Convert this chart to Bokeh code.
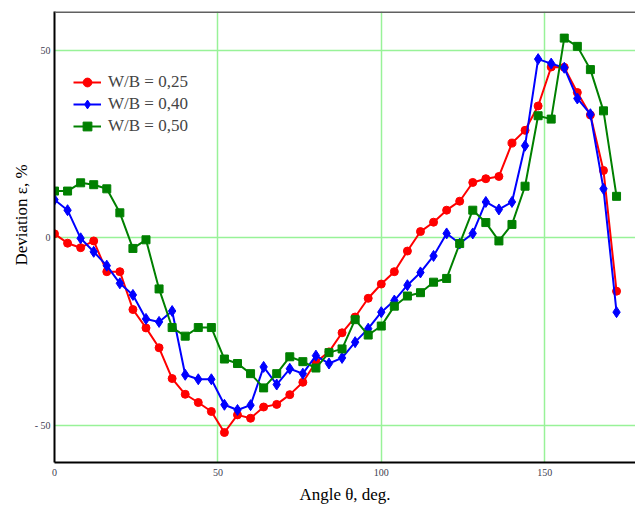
from bokeh.plotting import figure
from bokeh.models import (Range1d, FixedTicker, Span, Title, Legend, LegendItem)
from bokeh.embed import file_html
from bokeh.resources import INLINE

# ---- data ----
angles = list(range(0, 173, 4))
wb025 = [1, -1.5, -2.7, -0.9, -9.1, -9.1, -19.2, -24.1, -29.4, -37.6,
         -41.8, -44, -46.4, -52, -47.3, -48.2, -45.2, -44.5, -41.9, -38.6,
         -33.2, -30.5, -25.4, -21.2, -16.2, -12.4, -9.1, -3.6, 1.6, 4.1,
         7.3, 9.7, 14.7, 15.7, 16.3, 25.2, 28.6, 35.1, 45.5, 45.4,
         38.7, 32.7, 17.9, -14.3]
wb040 = [10.1, 7.3, -0.2, -3.8, -7.5, -12.2, -15.3, -21.7, -22.5, -19.6,
         -36.6, -37.8, -37.8, -44.6, -46, -44.7, -34.5, -39.2, -35, -36.3,
         -31.5, -33.6, -32.1, -27.9, -24.3, -19.9, -16.8, -12.7, -9.3, -4.9,
         1.1, -1.6, 1.1, 9.5, 7.5, 9.5, 24.5, 47.6, 46.4, 45.3,
         37.1, 32.9, 13, -19.9]
wb050 = [12.4, 12.4, 14.6, 14.1, 13, 6.6, -2.9, -0.6, -13.7, -24,
         -26.3, -24, -24, -32.4, -33.6, -36.3, -40.1, -36.3, -31.8, -33.1,
         -34.8, -30.7, -29.7, -21.9, -26, -23.6, -18.3, -15.6, -14.7, -11.9,
         -10.9, -1.6, 7.3, 4, -0.9, 3.5, 13.7, 32.5, 31.6, 53.2,
         51, 44.8, 33.8, 11]
series_labels = ["W/B = 0,25", "W/B = 0,40", "W/B = 0,50"]
x_ticks = [0, 50, 100, 150]
y_ticks = [-50, 0, 50]
y_tick_labels = {-50: "- 50", 0: "0", 50: "50"}
x_label = "Angle θ, deg."
y_label = "Deviation ε, %"

FONT = "Liberation Serif"
x_lo, x_hi = 0, 177.8
y_lo, y_hi = -60.0, 60.3

p = figure(width=635, height=506, output_backend="svg", toolbar_location=None,
           x_range=Range1d(x_lo, x_hi), y_range=Range1d(y_lo, y_hi),
           min_border_left=54, min_border_right=0, min_border_top=11,
           min_border_bottom=42)
p.background_fill_color = "white"
p.border_fill_color = "white"
p.outline_line_color = None

# axes
for ax in (p.xaxis[0], p.yaxis[0]):
    ax.axis_line_color = "black"
    ax.axis_line_width = 2
    ax.major_tick_line_color = None
    ax.minor_tick_line_color = None
    ax.major_tick_out = 0
    ax.major_tick_in = 0
    ax.major_label_text_font = FONT
    ax.major_label_text_font_size = "10px"
    ax.major_label_text_color = "#404050"
p.xaxis.ticker = FixedTicker(ticks=x_ticks)
p.yaxis.ticker = FixedTicker(ticks=y_ticks)
p.yaxis.major_label_overrides = y_tick_labels
p.xaxis.major_label_standoff = 6
p.yaxis.major_label_standoff = 4
p.xaxis.axis_label = x_label
p.xaxis.axis_label_text_font = FONT
p.xaxis.axis_label_text_font_style = "normal"
p.xaxis.axis_label_text_font_size = "17px"
p.xaxis.axis_label_text_color = "black"
p.xaxis.axis_label_standoff = 6

# grid
for g in (p.xgrid[0], p.ygrid[0]):
    g.grid_line_color = "#98f298"
    g.grid_line_width = 1.5
p.xgrid.ticker = FixedTicker(ticks=x_ticks)
p.ygrid.ticker = FixedTicker(ticks=y_ticks)

# top frame line
p.add_layout(Span(location=y_hi, dimension="width", line_color="#606060", line_width=3))

# series
specs = [(wb025, "red", "circle", 8), (wb040, "blue", "diamond", 11), (wb050, "green", "square", 8)]
items = []
for (vals, col, mk, sz), lab in zip(specs, series_labels):
    r1 = p.line(angles, vals, line_color=col, line_width=2)
    r2 = p.scatter(angles, vals, marker=mk, size=sz, fill_color=col, line_color=col)
    items.append(LegendItem(label=lab, renderers=[r1, r2]))

legend = Legend(items=items, location=(19, 325), padding=0, margin=0,
                border_line_color=None, background_fill_alpha=0,
                glyph_width=28, glyph_height=22, label_height=22, spacing=0,
                label_standoff=7, label_text_font=FONT, label_text_font_size="17px")
p.add_layout(legend)

# y-axis title as a left-side title, placed above centre like the reference
p.add_layout(Title(text=y_label, align="left", offset=197, standoff=2,
                   text_font=FONT, text_font_size="17px", text_font_style="normal",
                   text_color="black"), "left")

open("out.html", "w").write(file_html(p, INLINE))
